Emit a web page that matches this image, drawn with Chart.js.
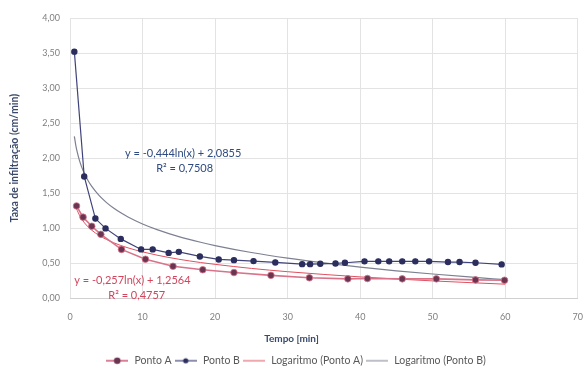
<!DOCTYPE html>
<html>
<head>
<meta charset="utf-8">
<script src="https://cdn.jsdelivr.net/npm/chart.js@4.4.1/dist/chart.umd.min.js"></script>
<style>
html,body{margin:0;padding:0;background:#fff;}
#wrap{width:583px;height:371px;}
</style>
</head>
<body>
<div id="wrap"><canvas id="c" width="583" height="371"></canvas></div>
<script>
// ---- data ----
const timeA  = [0.9, 1.8, 3.0, 4.25, 7.1, 10.4, 14.2, 18.3, 22.6, 27.7, 33.0, 38.3, 41.0, 45.8, 50.5, 55.9, 59.9];
const rateA  = [1.32, 1.16, 1.03, 0.915, 0.70, 0.56, 0.46, 0.41, 0.37, 0.33, 0.295, 0.28, 0.285, 0.28, 0.28, 0.265, 0.26];
const timeB  = [0.6, 1.96, 3.5, 4.9, 7.0, 9.8, 11.4, 13.6, 15.0, 17.9, 20.5, 22.6, 25.3, 28.3, 32.0, 33.1, 34.5, 36.6, 37.9, 40.6, 42.5, 44.0, 45.8, 47.6, 49.5, 52.1, 53.7, 55.9, 59.5];
const rateB  = [3.52, 1.74, 1.14, 1.0, 0.85, 0.70, 0.70, 0.65, 0.665, 0.60, 0.557, 0.547, 0.533, 0.514, 0.49, 0.49, 0.495, 0.50, 0.51, 0.53, 0.53, 0.53, 0.53, 0.53, 0.53, 0.52, 0.52, 0.51, 0.486];
// trendline curves as drawn (logarithmic fits shown in the chart)
const trendTimeA = [0.9, 1, 1.3, 1.6, 2, 2.5, 3, 4, 5, 6, 7, 8, 10, 12, 15, 18, 20, 25, 30, 35, 40, 45, 50, 55, 60];
const trendRateA = [1.283, 1.256, 1.189, 1.135, 1.078, 1.021, 0.974, 0.900, 0.843, 0.796, 0.756, 0.722, 0.665, 0.618, 0.560, 0.513, 0.487, 0.429, 0.382, 0.343, 0.308, 0.278, 0.251, 0.227, 0.204];
const trendTimeB = [0.6, 0.8, 1, 1.3, 1.6, 2, 2.5, 3, 4, 5, 6, 7, 8, 10, 12, 15, 18, 20, 25, 30, 35, 40, 45, 50, 55, 60];
const trendRateB = [2.312, 2.185, 2.086, 1.969, 1.877, 1.778, 1.679, 1.598, 1.470, 1.371, 1.290, 1.222, 1.163, 1.063, 0.983, 0.883, 0.802, 0.755, 0.656, 0.575, 0.507, 0.448, 0.395, 0.349, 0.307, 0.268];
const seriesNames = ['Ponto A', 'Ponto B', 'Logaritmo (Ponto A)', 'Logaritmo (Ponto B)'];
const eqTextA = ['y = -0,257ln(x) + 1,2564', 'R² = 0,4757'];
const eqTextB = ['y = -0,444ln(x) + 2,0855', 'R² = 0,7508'];
const xTitle = 'Tempo [min]';
const yTitle = 'Taxa de infiltração (cm/min)';

const FONT = 'Lato, "Liberation Sans", sans-serif';
const colA_line = '#d9738a', colA_pt = '#6a3550';
const colB_line = '#40437a', colB_pt = '#2c2e5e';
const colTA = '#e0505f', colTB = '#7d8090';

function pts(xs, ys){ return xs.map((x,i)=>({x:x, y:ys[i]})); }

function legendIcon(lineCol, ptCol, r, w){
  const c = document.createElement('canvas');
  c.width = 22; c.height = 10;
  const g = c.getContext('2d');
  g.strokeStyle = lineCol; g.lineWidth = w;
  g.beginPath(); g.moveTo(0,5); g.lineTo(22,5); g.stroke();
  if (r>0){ g.fillStyle = ptCol; g.beginPath(); g.arc(11,5,r,0,Math.PI*2); g.fill(); }
  return c;
}
const icons = [legendIcon(colA_line,colA_pt,3.3,1.8), legendIcon(colB_line,colB_pt,2.6,1.2), legendIcon(colTA,colTA,0,1), legendIcon(colTB,colTB,0,1)];

const textPlugin = {
  id:'texts',
  afterDatasetsDraw(chart){
    const ctx = chart.ctx, xs = chart.scales.x, ys = chart.scales.y;
    ctx.save();
    ctx.font = '11px ' + FONT;
    ctx.textAlign = 'center'; ctx.textBaseline = 'middle';
    ctx.fillStyle = '#2f4a80';
    ctx.fillText(eqTextB[0], xs.getPixelForValue(15.6), ys.getPixelForValue(2.07));
    ctx.fillText(eqTextB[1], xs.getPixelForValue(15.8), ys.getPixelForValue(1.86));
    ctx.fillStyle = '#d2455c';
    ctx.fillText(eqTextA[0], xs.getPixelForValue(8.6), ys.getPixelForValue(0.257));
    ctx.fillText(eqTextA[1], xs.getPixelForValue(9.2), ys.getPixelForValue(0.045));
    ctx.restore();
  },
  afterDraw(chart){
    const ctx = chart.ctx;
    ctx.save();
    ctx.font = 'bold 10px ' + FONT;
    ctx.textAlign = 'center'; ctx.textBaseline = 'middle';
    ctx.fillStyle = '#3b4a6b';
    ctx.fillText(xTitle, chart.width/2, chart.chartArea.bottom + 40);
    ctx.restore();
  }
};

new Chart(document.getElementById('c'), {
  type:'scatter',
  data:{
    datasets:[
      {label:seriesNames[0], data:pts(timeA,rateA), showLine:true, borderColor:colA_line, borderWidth:1.6,
       pointBackgroundColor:colA_pt, pointBorderColor:colA_line, pointBorderWidth:0.8, pointRadius:3.3, pointStyle:'circle', order:2},
      {label:seriesNames[1], data:pts(timeB,rateB), showLine:true, borderColor:colB_line, borderWidth:1.2,
       pointBackgroundColor:colB_pt, pointBorderColor:colB_pt, pointRadius:2.6, order:1},
      {label:seriesNames[2], data:pts(trendTimeA,trendRateA), showLine:true, borderColor:colTA, borderWidth:1,
       pointRadius:0, cubicInterpolationMode:'monotone', order:3},
      {label:seriesNames[3], data:pts(trendTimeB,trendRateB), showLine:true, borderColor:colTB, borderWidth:1.2,
       pointRadius:0, cubicInterpolationMode:'monotone', order:4}
    ]
  },
  options:{
    responsive:false, animation:false,
    layout:{padding:{top:18, left:8, right:0, bottom:-5}},
    plugins:{
      tooltip:{enabled:false},
      legend:{
        position:'bottom',
        labels:{
          font:{family:FONT, size:10.5}, color:'#595959', usePointStyle:true, pointStyleWidth:24, padding:2,
          generateLabels(chart){
            return chart.data.datasets.map((d,i)=>({text:d.label, pointStyle:icons[i], fillStyle:'#0000', strokeStyle:'#0000', lineWidth:0, datasetIndex:i, fontColor:'#595959'}));
          }
        }
      }
    },
    scales:{
      x:{
        type:'linear', min:0, max:70,
        ticks:{stepSize:10, font:{family:FONT, size:9}, color:'#7f7f7f', padding:13},
        grid:{color:'#e3e3e3', drawTicks:false},
        border:{color:'#d0d0d0'},
        title:{display:false},
        afterFit(s){ s.height = 55; s.paddingRight = 5; s.paddingLeft = 0; }
      },
      y:{
        min:0, max:4,
        ticks:{stepSize:0.5, font:{family:FONT, size:9}, color:'#7f7f7f', padding:10,
               callback:(v)=>v.toFixed(2).replace('.',',')},
        grid:{color:'#e3e3e3', drawTicks:false},
        border:{display:false},
        title:{display:true, text:yTitle, font:{family:FONT, size:10.5, weight:'bold'}, color:'#3b4a6b', padding:{top:0,bottom:3}},
        afterFit(s){ s.width = 62; }
      }
    }
  },
  plugins:[textPlugin]
});
</script>
</body>
</html>
